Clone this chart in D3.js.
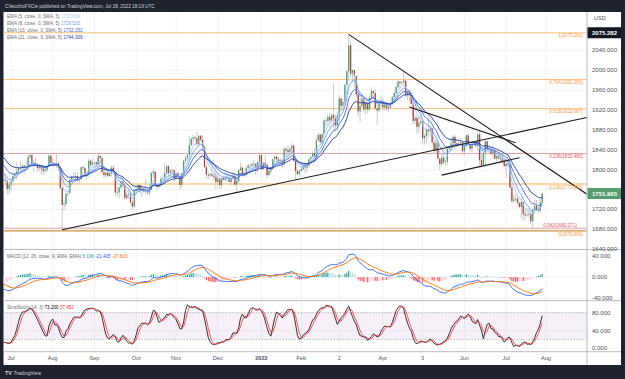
<!DOCTYPE html>
<html><head><meta charset="utf-8">
<script src="https://cdn.jsdelivr.net/npm/d3@7"></script>
<style>body{margin:0;background:#1e222d}svg{display:block;font-family:"Liberation Sans",Arial,sans-serif}</style>
</head><body>
<svg id="c" width="625" height="379"></svg>
<script>
// ---------- DATA ----------
const startDate = "2021-05-03"; // first trading day of the series (weekdays)
const closes = [
// May 2021
1793,1779,1785,1815,1831,1836,1836,1815,1826,1843,1867,1869,1870,1877,1881,1882,1898,1896,1896,1903,1906,
// Jun 2021
1903,1908,1871,1891,1898,1893,1888,1898,1877,1866,1859,1812,1774,1764,1782,1779,1779,1777,1781,1778,1761,1770,
// Jul 2021
1776,1787,1791,1797,1803,1803,1808,1806,1808,1825,1829,1812,1813,1810,1803,1806,1802,1797,1799,1806,1828,1814,
// Aug 2021
1813,1810,1813,1804,1763,1729,1731,1752,1753,1780,1786,1787,1787,1781,1781,1805,1803,1791,1792,1818,1810,1814,
// Sep 2021
1815,1810,1828,1823,1795,1789,1794,1787,1793,1804,1794,1754,1754,1764,1775,1768,1743,1750,1750,1734,1726,1757,
// Oct 2021
1761,1769,1760,1762,1756,1757,1754,1760,1793,1796,1768,1765,1769,1782,1783,1793,1807,1793,1798,1799,1783,
// Nov 2021
1793,1787,1769,1792,1818,1824,1830,1849,1862,1865,1863,1851,1868,1860,1846,1805,1790,1788,1791,1788,1785,1775,
// Dec 2021
1782,1769,1783,1779,1785,1783,1775,1783,1787,1770,1777,1799,1804,1791,1790,1803,1808,1808,1811,1812,1805,1815,1829,
// Jan 2022
1801,1814,1810,1789,1797,1801,1821,1826,1821,1817,1819,1812,1842,1839,1835,1842,1848,1818,1797,1791,1797,
// Feb 2022
1801,1807,1804,1808,1821,1826,1833,1827,1859,1870,1855,1871,1899,1898,1906,1899,1910,1903,1889,1909,
// Mar 2022
1943,1928,1936,1970,1998,2050,1993,2000,1988,1951,1917,1928,1943,1921,1935,1921,1944,1958,1954,1923,1919,1933,1937,
// Apr 2022
1925,1933,1923,1925,1932,1946,1954,1966,1977,1974,1975,1979,1950,1957,1951,1932,1898,1904,1886,1894,1897,
// May 2022
1863,1868,1881,1877,1883,1855,1838,1853,1822,1811,1824,1815,1816,1842,1846,1853,1866,1853,1851,1853,1855,1837,
// Jun 2022
1847,1869,1851,1842,1852,1854,1848,1871,1819,1809,1834,1857,1840,1839,1832,1838,1822,1827,1823,1821,1817,1807,
// Jul 2022
1812,1809,1764,1737,1740,1742,1733,1725,1735,1711,1708,1709,1711,1696,1718,1727,1719,1717,1734,1751.965
];
const highs = [
1798,1798,1792,1818,1843,1845,1844,1840,1829,1845,1869,1889,1890,1880,1890,1889,1900,1912,1902,1914,1910,
1916,1910,1910,1894,1903,1903,1900,1903,1903,1878,1870,1866,1825,1795,1790,1793,1795,1789,1790,1791,1780,1772,
1779,1795,1795,1815,1805,1818,1813,1810,1817,1830,1834,1832,1820,1825,1812,1812,1808,1810,1804,1810,1832,1830,
1824,1815,1832,1816,1805,1765,1740,1754,1759,1781,1788,1795,1795,1795,1785,1806,1809,1805,1796,1823,1820,1823,
1816,1816,1834,1827,1827,1803,1800,1801,1795,1808,1809,1795,1767,1766,1777,1787,1768,1755,1763,1755,1738,1761,
1764,1770,1770,1767,1764,1781,1762,1771,1796,1800,1797,1772,1775,1787,1790,1814,1810,1809,1801,1802,1801,
1794,1797,1793,1796,1819,1827,1830,1868,1866,1870,1868,1877,1870,1870,1869,1847,1811,1796,1795,1816,1793,1808,
1792,1785,1786,1786,1793,1793,1790,1790,1792,1793,1785,1800,1814,1806,1795,1807,1811,1812,1816,1820,1812,1817,1831,
1832,1815,1829,1812,1803,1806,1822,1828,1829,1826,1823,1821,1845,1847,1848,1845,1853,1852,1821,1801,1801,
1808,1811,1810,1815,1822,1827,1836,1842,1865,1874,1874,1872,1902,1903,1911,1914,1913,1974,1911,1916,
1950,1947,1941,1974,2002,2070,2058,2001,2000,1987,1954,1949,1947,1944,1938,1935,1947,1966,1960,1960,1939,1938,1949,
1945,1936,1935,1935,1937,1948,1957,1970,1980,1978,1978,1998,1983,1957,1961,1955,1937,1911,1908,1910,1920,
1898,1872,1882,1909,1890,1884,1858,1859,1858,1824,1827,1834,1819,1846,1849,1865,1870,1869,1858,1858,1864,1857,
1849,1871,1874,1856,1855,1857,1858,1874,1877,1831,1835,1858,1858,1845,1842,1847,1840,1834,1836,1830,1829,1820,
1813,1814,1812,1770,1749,1752,1747,1736,1745,1736,1721,1723,1724,1718,1722,1740,1739,1726,1740,1756
];
const lows = [
1769,1771,1776,1784,1812,1823,1822,1812,1808,1823,1837,1855,1856,1864,1864,1873,1876,1893,1880,1889,1898,
1896,1890,1865,1855,1888,1877,1885,1883,1873,1846,1846,1810,1761,1760,1762,1770,1775,1770,1774,1772,1750,1750,
1756,1775,1783,1780,1791,1798,1795,1792,1804,1806,1822,1810,1794,1806,1795,1797,1790,1788,1792,1795,1805,1810,
1806,1808,1803,1796,1760,1677,1718,1725,1747,1752,1774,1779,1776,1777,1772,1779,1799,1786,1780,1784,1806,1805,
1810,1807,1809,1813,1792,1782,1784,1785,1787,1785,1791,1745,1747,1742,1762,1764,1738,1740,1741,1730,1721,1722,
1754,1755,1751,1745,1753,1749,1749,1747,1758,1784,1766,1760,1763,1766,1776,1778,1791,1785,1785,1791,1775,
1781,1784,1758,1763,1790,1812,1818,1821,1848,1850,1857,1848,1848,1856,1837,1804,1782,1780,1785,1785,1778,1761,
1770,1762,1761,1778,1777,1777,1775,1768,1781,1766,1753,1773,1797,1784,1787,1786,1802,1801,1805,1806,1789,1794,1809,
1798,1799,1807,1782,1787,1793,1800,1814,1816,1812,1815,1805,1809,1833,1827,1830,1835,1815,1780,1788,1785,
1796,1798,1792,1794,1804,1816,1823,1823,1823,1857,1848,1849,1868,1887,1889,1887,1894,1878,1878,1877,
1896,1920,1920,1927,1971,1991,1985,1975,1966,1945,1907,1895,1925,1915,1910,1913,1918,1942,1943,1921,1890,1915,1925,
1919,1918,1918,1915,1921,1929,1938,1950,1963,1963,1970,1974,1945,1940,1936,1932,1891,1891,1872,1873,1890,
1850,1850,1853,1865,1868,1850,1832,1835,1821,1798,1806,1810,1807,1810,1837,1840,1849,1840,1845,1847,1849,1830,
1828,1843,1848,1836,1835,1848,1842,1839,1805,1805,1807,1805,1835,1834,1830,1824,1820,1815,1820,1813,1812,1805,
1784,1805,1763,1732,1733,1735,1730,1723,1701,1697,1698,1705,1700,1690,1681,1711,1717,1711,1713,1732
];
const timeTickDates = ["2021-07-01","2021-08-02","2021-09-01","2021-10-01","2021-11-01","2021-12-01","2022-01-03","2022-02-01","2022-03-01","2022-04-01","2022-05-02","2022-06-01","2022-07-01","2022-08-01"];
const timeTickLabels = ["Jul","Aug","Sep","Oct","Nov","Dec","2022","Feb","2","Apr","3","Jun","Jul","Aug"];
const priceTicks = [1640,1680,1720,1760,1800,1840,1880,1920,1960,2000,2040];
const macdTicks = [-40,0,40];
const stochTicks = [0,40,80];
const stochBands = [20,80];
const fibValues = [2075.282,1981.256,1923.087,1770.896,1676.866];
const fibRatios = ["1","0.764","0.618","0.236","0"];
const redFibValues = [1832.480,1682.271];
const redFibRatios = ["0.236","0.382"];
// trendlines: [date1, price1, date2, price2, extendRight]
const trendlines = [
  ["2021-08-09",1679,"2022-05-10",1839,true],
  ["2022-03-08",2072,"2022-07-26",1816,true],
  ["2022-04-21",1926,"2022-07-08",1854,false],
  ["2022-05-16",1789,"2022-07-12",1824,false]
];
const emaPeriods = [5,8,13,21];
const emaLegendValues = ["1733.066","1729.520","1732.252","1744.309"];
const macdLegendValues = ["6.198","-21.405","-27.603"];
const stochLegendValues = ["73.200","57.452"];
const lastPriceLabel = "1751.965";
const highPriceLabel = "2075.282";

// ---------- HELPERS ----------
const pad = n => String(n).padStart(2,"0");
const fmtD = d => d.getUTCFullYear()+"-"+pad(d.getUTCMonth()+1)+"-"+pad(d.getUTCDate());
const dates = [];
{ let d = new Date(startDate+"T00:00:00Z");
  while (dates.length < closes.length + 40) {
    const wd = d.getUTCDay();
    if (wd !== 0 && wd !== 6) dates.push(fmtD(d));
    d = new Date(d.getTime()+86400000);
  } }
const idx = s => dates.indexOf(s);
const N = closes.length;
const opens = closes.map((c,i)=> i===0 ? c : closes[i-1]);

function ema(arr,n){const k=2/(n+1);let p;return arr.map((v,i)=>(p = i===0? v : v*k+p*(1-k)));}
function sma(arr,n){return arr.map((v,i)=>{ if(i<n-1||arr.slice(i-n+1,i+1).some(x=>x==null)) return null; return d3.mean(arr.slice(i-n+1,i+1));});}
const emas = emaPeriods.map(p=>ema(closes,p));
const e12 = ema(closes,12), e26 = ema(closes,26);
const macd = e12.map((v,i)=>v-e26[i]);
const signal = ema(macd,9);
const hist = macd.map((v,i)=>v-signal[i]);
const rawK = closes.map((c,i)=>{ if(i<13) return null; const hh=d3.max(highs.slice(i-13,i+1)), ll=d3.min(lows.slice(i-13,i+1)); return 100*(c-ll)/(hh-ll);});
const kLine = sma(rawK,3), dLine = sma(kLine,3);

// ---------- LAYOUT ----------
const L=3.5, R=587, AX=621;
const main={top:12,bot:249}, mp={top:250.5,bot:300}, sp={top:301.5,bot:351};
const svg=d3.select("#c");
const x=d3.scaleLinear().domain([idx(timeTickDates[0]), idx(timeTickDates[timeTickDates.length-1])]).range([11,546]);
const y=d3.scaleLinear().domain([1680,2040]).range([229.3,50.3]);
const ym=d3.scaleLinear().domain([-40,40]).range([298.3,256]);
const ys=d3.scaleLinear().domain([0,80]).range([348.3,312.7]);

// background
svg.append("rect").attr("width",625).attr("height",379).attr("fill","#1e222d");
svg.append("rect").attr("x",L).attr("y",12).attr("width",AX-L).attr("height",365-12).attr("fill","#ffffff");
svg.append("text").attr("x",5).attr("y",6.3).attr("font-size",4.7).attr("fill","#d1d4dc").attr("dominant-baseline","central")
  .text("CVecchioFXCle published on TradingView.com, Jul 28, 2022 18:19 UTC");

const defs=svg.append("defs");
function clip(id,t,b){defs.append("clipPath").attr("id",id).append("rect").attr("x",L).attr("y",t).attr("width",R-L).attr("height",b-t);}
clip("cm",main.top,main.bot); clip("cmp",mp.top,mp.bot); clip("csp",sp.top,sp.bot);

// grid
const grid=svg.append("g").attr("stroke","#eef0f5").attr("stroke-width",0.8);
timeTickDates.forEach(d=>{const xx=x(idx(d)); grid.append("line").attr("x1",xx).attr("x2",xx).attr("y1",main.top).attr("y2",sp.bot);});
priceTicks.forEach(p=>grid.append("line").attr("x1",L).attr("x2",R).attr("y1",y(p)).attr("y2",y(p)));
macdTicks.forEach(p=>grid.append("line").attr("x1",L).attr("x2",R).attr("y1",ym(p)).attr("y2",ym(p)));
stochTicks.forEach(p=>grid.append("line").attr("x1",L).attr("x2",R).attr("y1",ys(p)).attr("y2",ys(p)));

// ---------- MAIN PANE ----------
const gm=svg.append("g").attr("clip-path","url(#cm)");
// fib lines
fibValues.forEach((v,i)=>{
  const bottom = i===fibValues.length-1, mid = fibRatios[i]==="0.236";
  gm.append("line").attr("x1",L).attr("x2",R).attr("y1",y(v)).attr("y2",y(v))
    .attr("stroke", bottom? "#d4923a" : (mid? "#ffd8a8" : "#ffc47a")).attr("stroke-width", mid?2:(bottom?1.3:1));
});
redFibValues.forEach(v=>gm.append("line").attr("x1",L).attr("x2",R).attr("y1",y(v)).attr("y2",y(v)).attr("stroke","#e6a3a3").attr("stroke-width",1));
// candles
const cg=gm.append("g");
for(let i=0;i<N;i++){
  const xx=x(i); if(xx<0||xx>R+2) continue;
  const up=closes[i]>=opens[i];
  cg.append("line").attr("x1",xx).attr("x2",xx).attr("y1",y(highs[i])).attr("y2",y(lows[i])).attr("stroke","#b4b6bb").attr("stroke-width",0.7);
  const t=y(Math.max(opens[i],closes[i])), b=y(Math.min(opens[i],closes[i]));
  cg.append("rect").attr("x",xx-0.65).attr("width",1.3).attr("y",t).attr("height",Math.max(0.6,b-t)).attr("fill",up?"#4f9b6c":"#ad4333");
}
// EMAs
const emaColors=["#a9cbf7","#6b9cf0","#3a68e0","#1c3aa6"];
emas.forEach((e,k)=>{
  gm.append("path").datum(e).attr("fill","none").attr("stroke",emaColors[k]).attr("stroke-width",0.9)
   .attr("d",d3.line().x((d,i)=>x(i)).y(d=>y(d)));
});
// trendlines
trendlines.forEach(t=>{
  const i1=idx(t[0]), i2=idx(t[2]);
  let x1=x(i1), y1=y(t[1]), x2=x(i2), y2=y(t[3]);
  if(t[4]){ const s=(y2-y1)/(x2-x1); y2=y1+s*(R-x1); x2=R; }
  gm.append("line").attr("x1",x1).attr("y1",y1).attr("x2",x2).attr("y2",y2).attr("stroke","#1a1a1a").attr("stroke-width",1.1);
});
// fib labels (bottom pair split above/below so they do not collide)
fibValues.forEach((v,i)=>svg.append("text").attr("x",583).attr("y",y(v)+3.2).attr("text-anchor","end").attr("font-size",4.6)
  .attr("dominant-baseline","central").attr("fill","#f39a3c").text(fibRatios[i]+"("+v.toFixed(3)+")"));
redFibValues.forEach((v,i)=>svg.append("text").attr("x",i===1?577:583).attr("y",i===1? y(v)-2.6 : y(v)+3.2).attr("text-anchor","end").attr("font-size",4.6)
  .attr("dominant-baseline","central").attr("fill","#e05a5a").text(redFibRatios[i]+"("+v.toFixed(3)+")"));

// legend
const legN=["EMA (5, close, 0, SMA, 5)","EMA (8, close, 0, SMA, 5)","EMA (13, close, 0, SMA, 5)","EMA (21, close, 0, SMA, 5)"];
emaPeriods.forEach((p,k)=>{
  const t=svg.append("text").attr("x",7).attr("y",16+k*7.1).attr("font-size",4.6).attr("dominant-baseline","central");
  t.append("tspan").attr("fill","#6a6d78").text(legN[k]+"  ");
  t.append("tspan").attr("fill",emaColors[k]).text(emaLegendValues[k]);
});

// ---------- MACD ----------
const gmp=svg.append("g").attr("clip-path","url(#cmp)");
hist.forEach((h,i)=>{
  const xx=x(i); if(xx<0||xx>R+2) return;
  const prev=i>0?hist[i-1]:h;
  const col = h>=0 ? (h>=prev?"#26a69a":"#b2dfdb") : (h<prev?"#ff5252":"#ffcdd2");
  gmp.append("rect").attr("x",xx-0.6).attr("width",1.2).attr("y",Math.min(ym(h),ym(0))).attr("height",Math.abs(ym(h)-ym(0))).attr("fill",col);
});
gmp.append("path").datum(macd).attr("fill","none").attr("stroke","#2962ff").attr("stroke-width",0.9).attr("d",d3.line().x((d,i)=>x(i)).y(d=>ym(d)));
gmp.append("path").datum(signal).attr("fill","none").attr("stroke","#ff6d00").attr("stroke-width",0.9).attr("d",d3.line().x((d,i)=>x(i)).y(d=>ym(d)));
{const t=svg.append("text").attr("x",7).attr("y",256).attr("font-size",4.6).attr("dominant-baseline","central");
 t.append("tspan").attr("fill","#6a6d78").text("MACD (12, 26, close, 9, EMA, EMA)  ");
 t.append("tspan").attr("fill","#26a69a").text(macdLegendValues[0]+"  ");
 t.append("tspan").attr("fill","#2962ff").text(macdLegendValues[1]+"  ");
 t.append("tspan").attr("fill","#ff6d00").text(macdLegendValues[2]);}

// ---------- STOCH ----------
const gsp=svg.append("g").attr("clip-path","url(#csp)");
gsp.append("rect").attr("x",L).attr("width",R-L).attr("y",ys(stochBands[1])).attr("height",ys(stochBands[0])-ys(stochBands[1])).attr("fill","rgba(156,39,176,0.07)");
stochBands.forEach(b=>gsp.append("line").attr("x1",L).attr("x2",R).attr("y1",ys(b)).attr("y2",ys(b)).attr("stroke","#a0a0a8").attr("stroke-width",0.7).attr("stroke-dasharray","1.5,1.5"));
const sl=d3.line().defined(d=>d!=null).x((d,i)=>x(i)).y(d=>ys(d));
gsp.append("path").datum(kLine).attr("fill","none").attr("stroke","#000000").attr("stroke-width",0.8).attr("d",sl);
gsp.append("path").datum(dLine).attr("fill","none").attr("stroke","#f23030").attr("stroke-width",0.8).attr("d",sl);
{const t=svg.append("text").attr("x",7).attr("y",307).attr("font-size",4.6).attr("dominant-baseline","central");
 t.append("tspan").attr("fill","#6a6d78").text("SlowStoch (14, 3)  ");
 t.append("tspan").attr("fill","#000000").text(stochLegendValues[0]+"  ");
 t.append("tspan").attr("fill","#f23030").text(stochLegendValues[1]);}

// ---------- SEPARATORS & AXES ----------
const sepC="#b8bcc6";
[249.5,300.7,351.7].forEach(v=>svg.append("line").attr("x1",L).attr("x2",AX).attr("y1",v).attr("y2",v).attr("stroke",sepC).attr("stroke-width",1));
svg.append("line").attr("x1",R).attr("x2",R).attr("y1",12).attr("y2",365).attr("stroke",sepC).attr("stroke-width",1);

const boxes=[+highPriceLabel,+lastPriceLabel];
const axT=(val,txt)=>svg.append("text").attr("x",592).attr("y",val).attr("font-size",6).attr("fill","#50535e").attr("dominant-baseline","central").text(txt);
priceTicks.forEach(p=>{ const yy=y(p);
  if(yy>main.top+3 && yy<main.bot+1 && boxes.every(b=>Math.abs(y(b)-yy)>8)) axT(yy,p.toFixed(3)); });
macdTicks.forEach(p=>axT(ym(p),p.toFixed(3)));
stochTicks.forEach(p=>axT(ys(p),p.toFixed(3)));
svg.append("text").attr("x",594).attr("y",17.5).attr("font-size",5.5).attr("fill","#50535e").attr("dominant-baseline","central").text("USD");

// price boxes
const box=(v,txt,bg)=>{ svg.append("rect").attr("x",R+0.5).attr("y",y(v)-5.5).attr("width",AX-R-0.5).attr("height",11).attr("fill",bg);
  svg.append("text").attr("x",592).attr("y",y(v)).attr("font-size",6).attr("font-weight","bold").attr("fill","#ffffff").attr("dominant-baseline","central").text(txt); };
box(+highPriceLabel,highPriceLabel,"#131722");
box(+lastPriceLabel,lastPriceLabel,"#569d6e");

// time axis
timeTickDates.forEach((d,k)=>svg.append("text").attr("x",x(idx(d))).attr("y",358).attr("font-size",5.6).attr("text-anchor","middle")
  .attr("font-weight",timeTickLabels[k]==="2022"?"bold":"normal").attr("fill","#50535e").attr("dominant-baseline","central").text(timeTickLabels[k]));

// footer
svg.append("text").attr("x",5).attr("y",372.5).attr("font-size",5.5).attr("font-weight","bold").attr("fill","#d1d4dc").attr("dominant-baseline","central").text("TV");
svg.append("text").attr("x",13.5).attr("y",372.5).attr("font-size",5).attr("fill","#d1d4dc").attr("dominant-baseline","central").text("TradingView");
</script>
</body></html>
